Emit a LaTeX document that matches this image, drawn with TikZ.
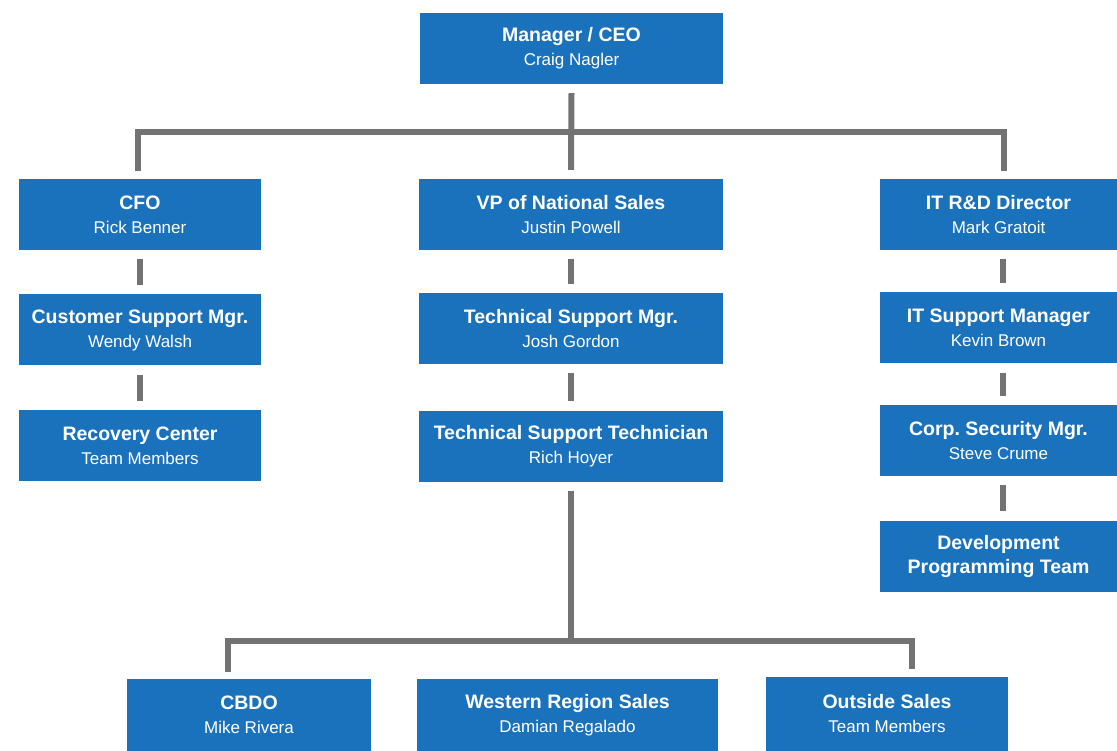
\documentclass[tikz,border=0pt]{standalone}
\usepackage{fontspec}
\setmainfont{Liberation Sans}
\usepackage{xcolor}
\usepackage{tikz}
\usetikzlibrary{calc}
\definecolor{orgblue}{HTML}{1B72BC}
\definecolor{wiregray}{HTML}{737373}
\newcommand{\nm}[1]{{\mdseries\fontsize{17}{24}\selectfont #1}}
\frenchspacing

\begin{document}
\begin{tikzpicture}[x=1pt,y=-1pt,
    orgbox/.style={rectangle, fill=orgblue, text=white, align=center, inner sep=0pt,
      minimum height=71pt, font=\fontsize{19.5}{24}\selectfont\bfseries},
    wire/.style={draw=wiregray, line width=6pt},
    gap/.style={wire, shorten <=9pt, shorten >=9pt}]
  \useasboundingbox (0,0) rectangle (1117,751);
  \node [orgbox, minimum width=303pt] (ceo) at (571.5,48.5) {Manager / CEO\\\nm{Craig Nagler}};
  \node [orgbox, minimum width=242pt] (cfo) at (140,214.5) {CFO\\\nm{Rick Benner}};
  \node [orgbox, minimum width=242pt] (csm) at (140,330) {Customer Support Mgr.\\\nm{Wendy Walsh}};
  \node [orgbox, minimum width=242pt] (rec) at (140,445.5) {Recovery Center\\\nm{Team Members}};
  \node [orgbox, minimum width=304pt] (vp) at (571,214.5) {VP of National Sales\\\nm{Justin Powell}};
  \node [orgbox, minimum width=304pt] (tsm) at (571,328.5) {Technical Support Mgr.\\\nm{Josh Gordon}};
  \node [orgbox, minimum width=304pt] (tst) at (571,446) {Technical Support Technician\\\nm{Rich Hoyer}};
  \node [orgbox, minimum width=237pt] (itrd) at (998.5,214.5) {IT R\&D Director\\\nm{Mark Gratoit}};
  \node [orgbox, minimum width=237pt] (itsm) at (998.5,328) {IT Support Manager\\\nm{Kevin Brown}};
  \node [orgbox, minimum width=237pt] (csec) at (998.5,440.5) {Corp. Security Mgr.\\\nm{Steve Crume}};
  \node [orgbox, minimum width=237pt] (dev) at (998.5,556) {Development\\Programming Team};
  \node [orgbox, minimum width=244pt, minimum height=72pt] (cbdo) at (249,715) {CBDO\\\nm{Mike Rivera}};
  \node [orgbox, minimum width=301pt, minimum height=72pt] (west) at (567.5,715) {Western Region Sales\\\nm{Damian Regalado}};
  \node [orgbox, minimum width=242pt, minimum height=74pt] (out) at (887,714) {Outside Sales\\\nm{Team Members}};
  \coordinate (topbar) at (0,132);
  \coordinate (lowbar) at (0,641);
  \draw [wire] ([yshift=-9pt]ceo.south) -- ([yshift=9pt]vp.north);
  \draw [wire] ([xshift=-2pt,yshift=8pt]cfo.north) |- (ceo.south |- topbar) -| ([xshift=5pt,yshift=8pt]itrd.north);
  \draw [gap] (cfo) -- (csm);
  \draw [gap] (csm) -- (rec);
  \draw [gap] (vp) -- (tsm);
  \draw [gap] (tsm) -- (tst);
  \draw [gap] ([xshift=4pt]itrd.south) -- ([xshift=4pt]itsm.north);
  \draw [gap] ([xshift=4pt]itsm.south) -- ([xshift=4pt]csec.north);
  \draw [gap] ([xshift=4pt]csec.south) -- ([xshift=4pt]dev.north);
  \draw [wire] ([yshift=-9pt]tst.south) -- (tst.south |- lowbar);
  \draw [wire] ([xshift=-21pt,yshift=7pt]cbdo.north) |- (tst.south |- lowbar) -| ([xshift=25pt,yshift=8pt]out.north);
\end{tikzpicture}
\end{document}
